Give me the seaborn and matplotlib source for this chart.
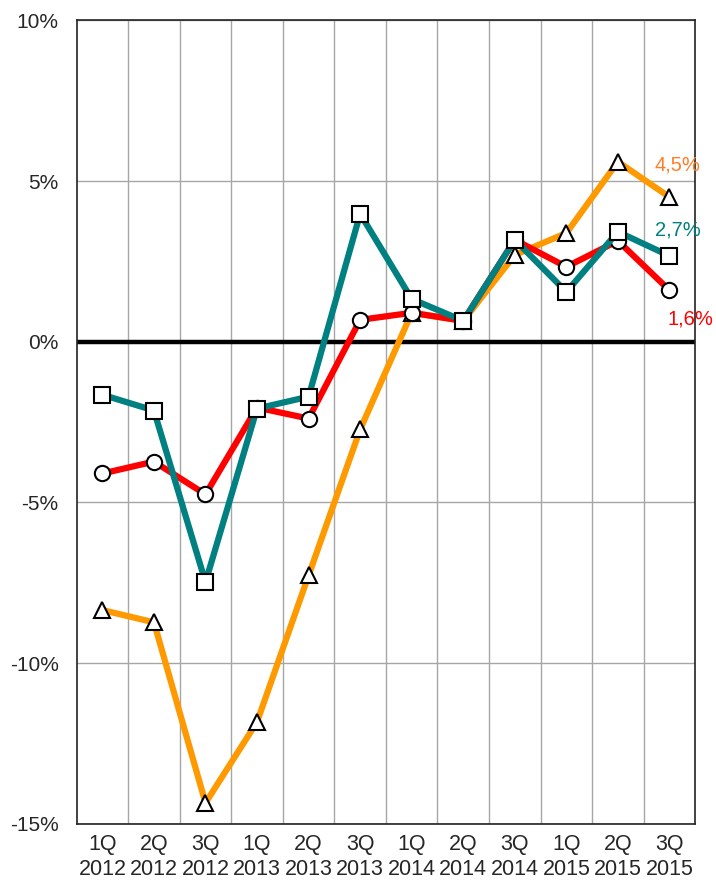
import seaborn as sns
import matplotlib.pyplot as plt
import pandas as pd
import numpy as np

sns.set_style("white")
plt.rcParams['font.family'] = ['Liberation Sans', 'DejaVu Sans']

# ---- Data (in %) ----
quarters = ["1Q\n2012", "2Q\n2012", "3Q\n2012", "1Q\n2013", "2Q\n2013", "3Q\n2013",
            "1Q\n2014", "2Q\n2014", "3Q\n2014", "1Q\n2015", "2Q\n2015", "3Q\n2015"]
red_values = [-4.1, -3.73, -4.75, -2.05, -2.39, 0.68, 0.9, 0.65, 3.17, 2.33, 3.14, 1.6]
teal_values = [-1.65, -2.14, -7.48, -2.08, -1.71, 3.98, 1.33, 0.65, 3.17, 1.55, 3.42, 2.67]
orange_values = [-8.35, -8.73, -14.35, -11.83, -7.27, -2.73, 0.9, 0.65, 2.7, 3.38, 5.6, 4.5]
end_labels = ["4,5%", "2,7%", "1,6%"]

pos = np.arange(len(quarters))
df = pd.DataFrame({"pos": pos, "red": red_values, "teal": teal_values, "orange": orange_values})

fig = plt.figure(figsize=(7.16, 8.83), dpi=100)
ax = fig.add_axes([0.107, 0.067, 0.864, 0.910])

series = [
    ("orange", "#FF9900", "^"),
    ("red", "#FF0000", "o"),
    ("teal", "#008080", "s"),
]
for col, color, marker in series:
    sns.lineplot(data=df, x="pos", y=col, ax=ax, color=color, linewidth=4.5,
                 marker=marker, markersize=11, markerfacecolor="white",
                 markeredgecolor="black", markeredgewidth=1.5, zorder=3)

ax.axhline(0, color="black", linewidth=3.2, zorder=2)

# end labels
ax.text(11.15, 5.5, end_labels[0], color="#FF7F27", fontsize=14.5, ha="center", va="center")
ax.text(11.17, 3.48, end_labels[1], color="#008080", fontsize=14.5, ha="center", va="center")
ax.text(11.4, 0.72, end_labels[2], color="#FF0000", fontsize=14.5, ha="center", va="center")

ax.set_xlim(-0.5, 11.5)
ax.set_ylim(-15, 10)
ax.set_yticks([-15, -10, -5, 0, 5, 10])
ax.set_yticklabels(["-15%", "-10%", "-5%", "0%", "5%", "10%"], fontsize=15)
ax.set_xticks(pos)
ax.set_xticklabels(quarters, fontsize=15.5, linespacing=1.3)
ax.set_xticks(np.arange(0.5, 11.5, 1), minor=True)
ax.tick_params(axis="y", which="both", length=0, pad=13)
ax.tick_params(axis="x", which="both", length=0, pad=7)
ax.grid(True, axis="x", which="minor", color="#A6A6A6", linewidth=1)
ax.grid(True, axis="y", which="major", color="#A6A6A6", linewidth=1)
ax.set_axisbelow(True)
ax.set_xlabel("")
ax.set_ylabel("")
for s in ax.spines.values():
    s.set_visible(True)
    s.set_color("#222222")
    s.set_linewidth(1.2)

fig.savefig("out.png", dpi=100)
plt.close()
